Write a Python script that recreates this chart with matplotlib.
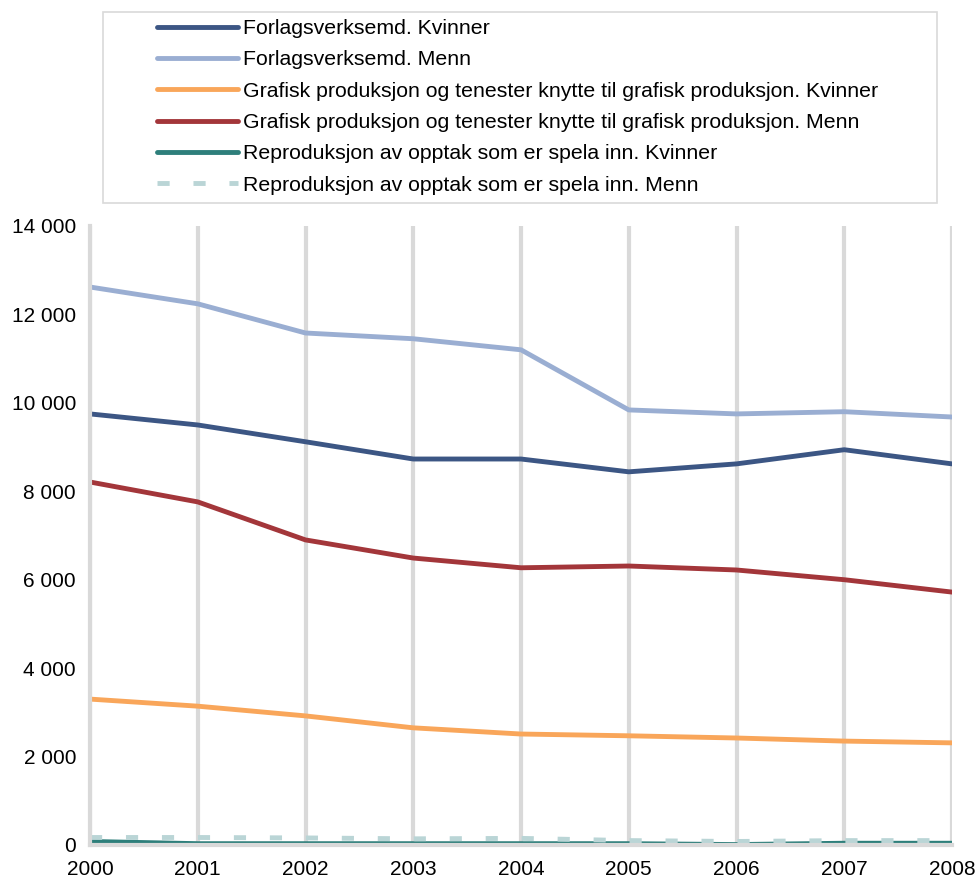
import matplotlib.pyplot as plt
from matplotlib.patches import Rectangle

plt.rcParams['font.family'] = ['Liberation Sans', 'DejaVu Sans']

years = [2000, 2001, 2002, 2003, 2004, 2005, 2006, 2007, 2008]

forlag_kvinner = [9750, 9500, 9120, 8730, 8730, 8440, 8620, 8940, 8620]
forlag_menn = [12620, 12240, 11580, 11450, 11200, 9840, 9750, 9800, 9680]
grafisk_kvinner = [3300, 3140, 2920, 2650, 2510, 2470, 2420, 2350, 2310]
grafisk_menn = [8210, 7760, 6900, 6490, 6270, 6310, 6220, 6000, 5720]
repro_kvinner = [80, 30, 30, 30, 30, 30, 10, 40, 40]
repro_menn = [170, 170, 160, 140, 150, 100, 80, 100, 100]

labels = ["Forlagsverksemd. Kvinner",
          "Forlagsverksemd. Menn",
          "Grafisk produksjon og tenester knytte til grafisk produksjon. Kvinner",
          "Grafisk produksjon og tenester knytte til grafisk produksjon. Menn",
          "Reproduksjon av opptak som er spela inn. Kvinner",
          "Reproduksjon av opptak som er spela inn. Menn"]

yticks = [0, 2000, 4000, 6000, 8000, 10000, 12000, 14000]

fig = plt.figure(figsize=(9.77, 8.81), dpi=100)
ax = fig.add_axes([90/977, 1-845/881, (952-90)/977, (845-226)/881])

lw = 3.5
ax.plot(years, forlag_kvinner, color='#3c5684', lw=lw, label=labels[0], solid_capstyle='round')
ax.plot(years, forlag_menn, color='#9aaed2', lw=lw, label=labels[1], solid_capstyle='round')
ax.plot(years, grafisk_kvinner, color='#f9a65a', lw=lw, label=labels[2], solid_capstyle='round')
ax.plot(years, grafisk_menn, color='#a3363a', lw=lw, label=labels[3], solid_capstyle='round')
ax.plot(years, repro_kvinner, color='#2e7f7b', lw=lw, label=labels[4], solid_capstyle='round')
ax.plot(years, repro_menn, color='#bad5d6', lw=lw, label=labels[5],
        dashes=(2.5, 4.9), dash_capstyle='butt')

ax.set_xlim(2000, 2008)
ax.set_ylim(0, 14000)
ax.set_xticks(years)
ax.set_yticks(yticks)
ax.set_yticklabels([f"{v:,}".replace(",", " ") for v in yticks])
ax.tick_params(length=0, labelsize=15, pad=10)
ax.tick_params(axis='x', pad=11)
ax.grid(axis='x', color='#d9d9d9', lw=3)
ax.set_axisbelow(True)
for s in ['top', 'right']:
    ax.spines[s].set_visible(False)
for s in ['left', 'bottom']:
    ax.spines[s].set_color('#d9d9d9')
    ax.spines[s].set_linewidth(3)

# legend box
fig.patches.append(Rectangle((103/977, 1-203/881), (937-103)/977, (203-12)/881,
                             transform=fig.transFigure, fill=False,
                             edgecolor='#d9d9d9', lw=1.2))
leg = fig.legend(loc='upper left', bbox_to_anchor=(157/977, 1-19/881),
                 frameon=False, fontsize=15.3, handlelength=3.8, handletextpad=0.25,
                 labelspacing=0.58, borderaxespad=0, borderpad=0)

fig.savefig('out.png', dpi=100)
